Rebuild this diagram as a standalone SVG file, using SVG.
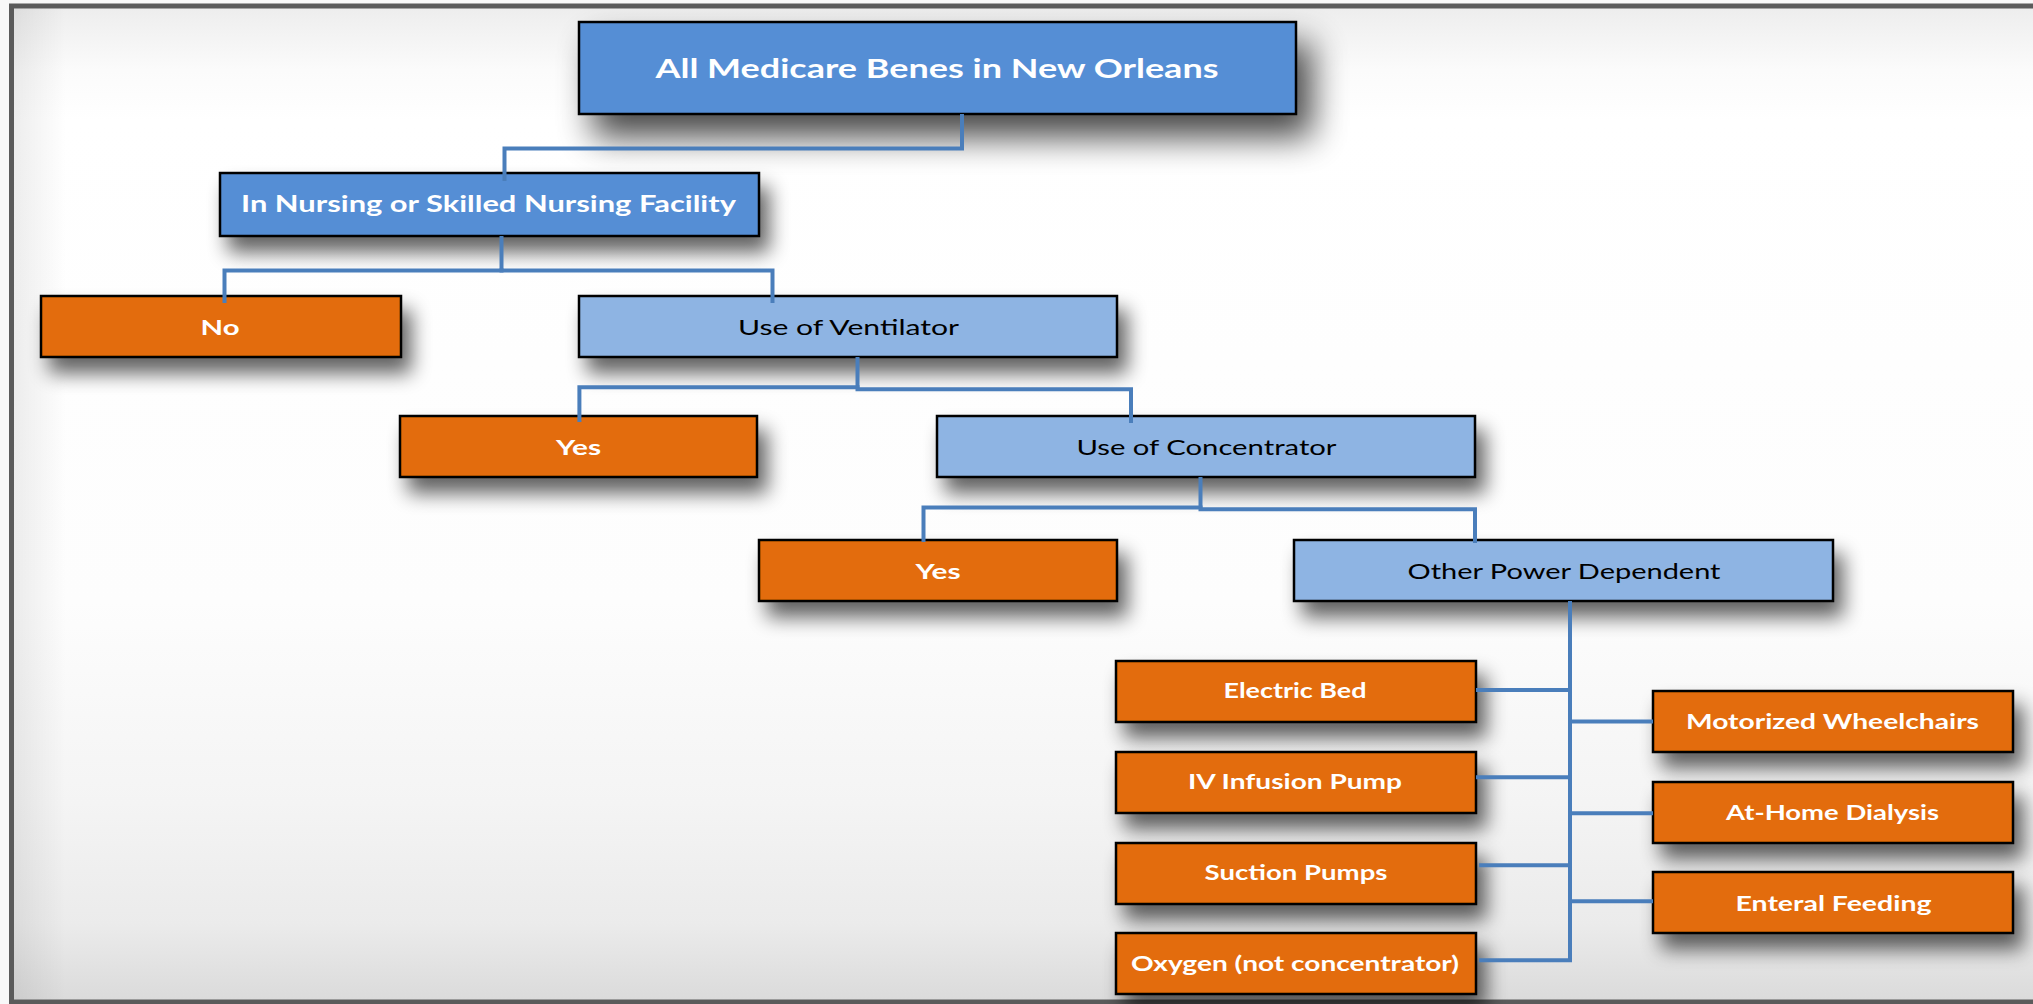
<svg xmlns="http://www.w3.org/2000/svg" width="2033" height="1004" viewBox="0 0 2033 1004">
<defs>
<style>
.box{stroke:#000;stroke-width:2.5}
.mb{fill:#558ED5}
.lb{fill:#8EB4E3}
.or{fill:#E36C09}
.t{font-family:Lato,"Liberation Sans",sans-serif;text-anchor:middle}
.tw{fill:#fff;font-weight:700}
.tk{fill:#000;font-weight:400}
.c{fill:none;stroke:#4A7EBB;stroke-width:4;stroke-linejoin:miter;stroke-linecap:butt}
</style>
<linearGradient id="bgv" x1="0" y1="0" x2="0" y2="1004" gradientUnits="userSpaceOnUse">
<stop offset="0" stop-color="#ebebeb"/>
<stop offset="0.02" stop-color="#f0f0f0"/>
<stop offset="0.07" stop-color="#fbfbfb"/>
<stop offset="0.12" stop-color="#ffffff"/>
<stop offset="0.6" stop-color="#fdfdfd"/>
<stop offset="0.8" stop-color="#f4f4f4"/>
<stop offset="0.92" stop-color="#ebebeb"/>
<stop offset="1" stop-color="#dadada"/>
</linearGradient>
<linearGradient id="bgl" x1="14" y1="0" x2="66" y2="0" gradientUnits="userSpaceOnUse">
<stop offset="0" stop-color="#000" stop-opacity="0.07"/>
<stop offset="1" stop-color="#000" stop-opacity="0"/>
</linearGradient>
<filter id="sh" x="-15%" y="-60%" width="140%" height="280%">
<feGaussianBlur in="SourceAlpha" stdDeviation="10"/>
<feOffset dx="9" dy="15"/>
<feComponentTransfer><feFuncA type="linear" slope="0.62"/></feComponentTransfer>
<feMerge><feMergeNode/><feMergeNode in="SourceGraphic"/></feMerge>
</filter>
<filter id="shBig" x="-15%" y="-60%" width="140%" height="280%">
<feGaussianBlur in="SourceAlpha" stdDeviation="17"/>
<feOffset dx="15" dy="22"/>
<feComponentTransfer><feFuncA type="linear" slope="0.72"/></feComponentTransfer>
<feMerge><feMergeNode/><feMergeNode in="SourceGraphic"/></feMerge>
</filter>
</defs>

<rect x="0" y="0" width="2033" height="1004" fill="#f8f8f8"/>
<rect x="11.5" y="6" width="2100" height="996" fill="url(#bgv)" stroke="#5b5b5b" stroke-width="5"/>
<rect x="14" y="8.5" width="60" height="991" fill="url(#bgl)"/>

<g id="node-all-medicare">
<rect class="box mb" x="579" y="22" width="717" height="92" filter="url(#shBig)"/>
<text class="t tw" x="937" y="78" font-size="26" textLength="563" lengthAdjust="spacingAndGlyphs">All Medicare Benes in New Orleans</text>
</g>
<g id="node-nursing">
<rect class="box mb" x="220" y="173" width="539" height="63" filter="url(#sh)"/>
<text class="t tw" x="488.5" y="212" font-size="22" textLength="495" lengthAdjust="spacingAndGlyphs">In Nursing or Skilled Nursing Facility</text>
</g>
<g id="node-no">
<rect class="box or" x="41" y="296" width="360" height="61" filter="url(#sh)"/>
<text class="t tw" x="220" y="335" font-size="21" textLength="39" lengthAdjust="spacingAndGlyphs">No</text>
</g>
<g id="node-ventilator">
<rect class="box lb" x="579" y="296" width="538" height="61" filter="url(#sh)"/>
<text class="t tk" x="848.5" y="335" font-size="21" textLength="221" lengthAdjust="spacingAndGlyphs">Use of Ventilator</text>
</g>
<g id="node-yes-ventilator">
<rect class="box or" x="400" y="416" width="357" height="61" filter="url(#sh)"/>
<text class="t tw" x="578.5" y="455" font-size="21" textLength="45" lengthAdjust="spacingAndGlyphs">Yes</text>
</g>
<g id="node-concentrator">
<rect class="box lb" x="937" y="416" width="538" height="61" filter="url(#sh)"/>
<text class="t tk" x="1206.5" y="455" font-size="21" textLength="260" lengthAdjust="spacingAndGlyphs">Use of Concentrator</text>
</g>
<g id="node-yes-concentrator">
<rect class="box or" x="759" y="540" width="358" height="61" filter="url(#sh)"/>
<text class="t tw" x="938" y="579" font-size="21" textLength="45" lengthAdjust="spacingAndGlyphs">Yes</text>
</g>
<g id="node-other">
<rect class="box lb" x="1294" y="540" width="539" height="61" filter="url(#sh)"/>
<text class="t tk" x="1564" y="579" font-size="21" textLength="313" lengthAdjust="spacingAndGlyphs">Other Power Dependent</text>
</g>
<g id="node-electric-bed">
<rect class="box or" x="1116" y="661" width="360" height="61" filter="url(#sh)"/>
<text class="t tw" x="1295" y="698" font-size="20.5" textLength="143" lengthAdjust="spacingAndGlyphs">Electric Bed</text>
</g>
<g id="node-iv">
<rect class="box or" x="1116" y="752" width="360" height="61" filter="url(#sh)"/>
<text class="t tw" x="1295" y="789" font-size="20.5" textLength="214" lengthAdjust="spacingAndGlyphs">IV Infusion Pump</text>
</g>
<g id="node-suction">
<rect class="box or" x="1116" y="843" width="360" height="61" filter="url(#sh)"/>
<text class="t tw" x="1296" y="880" font-size="20.5" textLength="183" lengthAdjust="spacingAndGlyphs">Suction Pumps</text>
</g>
<g id="node-oxygen">
<rect class="box or" x="1116" y="933" width="360" height="61" filter="url(#sh)"/>
<text class="t tw" x="1295" y="970.5" font-size="20.5" textLength="328" lengthAdjust="spacingAndGlyphs">Oxygen (not concentrator)</text>
</g>
<g id="node-wheelchairs">
<rect class="box or" x="1653" y="691" width="360" height="61" filter="url(#sh)"/>
<text class="t tw" x="1832.5" y="729" font-size="20.5" textLength="293" lengthAdjust="spacingAndGlyphs">Motorized Wheelchairs</text>
</g>
<g id="node-dialysis">
<rect class="box or" x="1653" y="782" width="360" height="61" filter="url(#sh)"/>
<text class="t tw" x="1832.5" y="819.5" font-size="20.5" textLength="213" lengthAdjust="spacingAndGlyphs">At-Home Dialysis</text>
</g>
<g id="node-enteral">
<rect class="box or" x="1653" y="872" width="360" height="61" filter="url(#sh)"/>
<text class="t tw" x="1833.5" y="910.5" font-size="20.5" textLength="196" lengthAdjust="spacingAndGlyphs">Enteral Feeding</text>
</g>

<g id="connectors">
<path class="c" d="M962,114 V148.5 H504.5 V181"/>
<path class="c" d="M501.5,236 V270.5"/>
<path class="c" d="M503.5,270.5 H224.5 V303"/>
<path class="c" d="M499.5,270.5 H772.5 V303"/>
<path class="c" d="M857.5,357 V389"/>
<path class="c" d="M859.5,387.3 H579.4 V422"/>
<path class="c" d="M855.5,389.3 H1131 V423"/>
<path class="c" d="M1200.5,477 V509"/>
<path class="c" d="M1202.5,507.5 H923.5 V542"/>
<path class="c" d="M1198.5,509.3 H1475 V543"/>
<path class="c" d="M1570,601 V962"/>
<path class="c" d="M1476,690 H1570"/>
<path class="c" d="M1476,777.3 H1570"/>
<path class="c" d="M1479,865.3 H1570"/>
<path class="c" d="M1479,960.3 H1572"/>
<path class="c" d="M1570,721.5 H1653"/>
<path class="c" d="M1570,813.3 H1653"/>
<path class="c" d="M1570,901.3 H1653"/>
</g>
</svg>
